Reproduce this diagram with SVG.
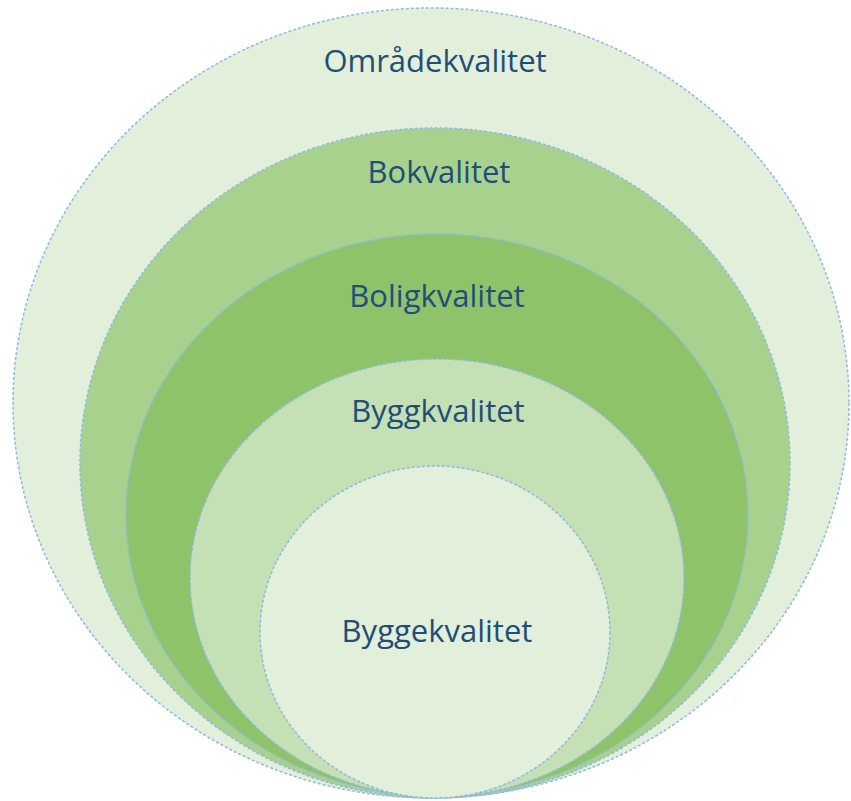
<svg xmlns="http://www.w3.org/2000/svg" width="851" height="801" viewBox="0 0 851 801">
<style>
.ring{stroke:#8fb8e3;stroke-width:1.5;stroke-dasharray:3 2}
.lbl{font-family:"Open Sans","DejaVu Sans",sans-serif;font-size:31px;fill:#1f4e79;text-anchor:middle}
</style>
<rect width="851" height="801" fill="#ffffff"/>
<g id="omradekvalitet">
<ellipse class="ring" cx="431" cy="403" rx="418" ry="395" fill="#e2efda"/>
<text class="lbl" x="435" y="72">Områdekvalitet</text>
</g>
<g id="bokvalitet">
<ellipse class="ring" cx="435" cy="463" rx="355" ry="335" fill="#a9d18e"/>
<text class="lbl" x="439" y="183">Bokvalitet</text>
</g>
<g id="boligkvalitet">
<ellipse class="ring" cx="437" cy="515" rx="311" ry="281" fill="#8fc36a"/>
<text class="lbl" x="437" y="307">Boligkvalitet</text>
</g>
<g id="byggkvalitet">
<ellipse class="ring" cx="437" cy="578" rx="247" ry="219" fill="#c5e0b4"/>
<text class="lbl" x="438" y="422">Byggkvalitet</text>
</g>
<g id="byggekvalitet">
<ellipse class="ring" cx="435" cy="632" rx="175" ry="166" fill="#e2efda"/>
<text class="lbl" x="437" y="642">Byggekvalitet</text>
</g>
<g id="connectors"/>
</svg>
